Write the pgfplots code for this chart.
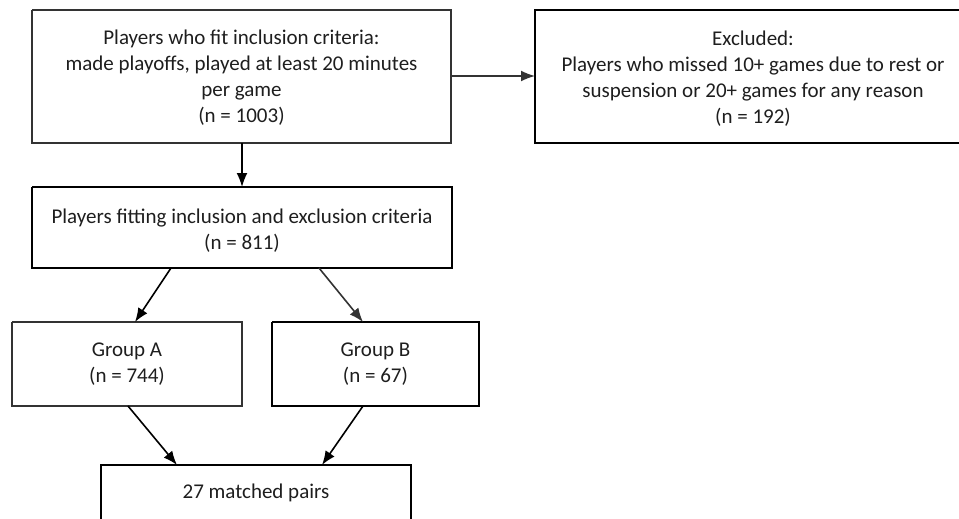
\documentclass[border=0pt]{standalone}
\usepackage{pgfplots}
\pgfplotsset{compat=1.18}
\usepackage{fontspec}
\setmainfont{Carlito}
\usetikzlibrary{arrows.meta}
\definecolor{ln}{HTML}{333333}
\definecolor{tx}{HTML}{1E1E1E}
\begin{document}
\begin{tikzpicture}[>={Latex[length=14pt,width=11pt]}]
\begin{axis}[
  scale only axis, width=959pt, height=519pt,
  xmin=0, xmax=959, ymin=0, ymax=519, y dir=reverse,
  hide axis, clip=false,
  cycle list={{color=ln, solid, mark=none}},
  every axis plot post/.append style={line width=1.6pt},
]
% boxes
\addplot coordinates {(32,10) (451,10) (451,143) (32,143) (32,10)};
\addplot coordinates {(959,10) (535,10) (535,143) (959,143)};
\addplot coordinates {(32,187) (452,187) (452,268) (32,268) (32,187)};
\addplot coordinates {(12,322) (242,322) (242,406) (12,406) (12,322)};
\addplot coordinates {(272,322) (479,322) (479,406) (272,406) (272,322)};
\addplot coordinates {(101,519) (101,465) (411,465) (411,519)};
% arrows
\addplot+[->] coordinates {(451,76) (535,76)};
\addplot+[->] coordinates {(242,143) (242,187)};
\addplot+[->] coordinates {(171,268) (135,322)};
\addplot+[->] coordinates {(319,268) (363,322)};
\addplot+[->] coordinates {(128,406) (177,465)};
\addplot+[->] coordinates {(363,406) (322,465)};
% texts
\tikzset{t/.style={text=tx, align=center, font=\fontsize{21}{26}\selectfont, inner sep=0pt}}
\node[t] at (axis cs:241.5,78) {Players who fit inclusion criteria:\\made playoffs, played at least 20 minutes\\per game\\(n = 1003)};
\node[t] at (axis cs:753,79) {Excluded:\\Players who missed 10+ games due to rest or\\suspension or 20+ games for any reason\\(n = 192)};
\node[t] at (axis cs:242,231) {Players fitting inclusion and exclusion criteria\\(n = 811)};
\node[t] at (axis cs:127,364.5) {Group A\\(n = 744)};
\node[t] at (axis cs:375.5,364.5) {Group B\\(n = 67)};
\node[t] at (axis cs:256,493) {27 matched pairs};
\end{axis}
\pgfresetboundingbox
\path (current axis.south west) rectangle (current axis.north east);
\end{tikzpicture}
\end{document}
